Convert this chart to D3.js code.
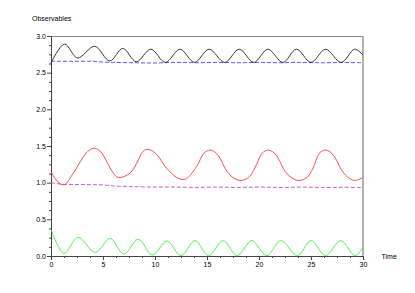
<!DOCTYPE html>
<html>
<head>
<meta charset="utf-8">
<script src="https://cdn.jsdelivr.net/npm/d3@7"></script>
<style>
  body { margin: 0; background: #fff; }
  svg text { font-family: "Liberation Sans", Arial, Helvetica, sans-serif; font-size: 7px; fill: #000; }
</style>
</head>
<body>
<div id="chart"></div>
<script>
// observables, [time, value]
var blackSeries = [[0,2.63],[1.3,2.89],[2.55,2.70],[4.2,2.86],[5.65,2.66],[6.9,2.83],[8.2,2.65],[9.6,2.82],
  [11.0,2.64],[12.4,2.82],[13.8,2.64],[15.2,2.82],[16.7,2.64],[18.1,2.82],[19.5,2.64],[20.85,2.82],
  [22.3,2.64],[23.6,2.82],[25.0,2.64],[26.4,2.82],[27.9,2.64],[29.2,2.82],[30,2.74]];
var blueSeries = [[0,2.655],[2,2.655],[4,2.655],[5,2.645],[6,2.64],[8,2.635],[10,2.632],[12,2.64],[14,2.635],
  [16,2.64],[18,2.635],[20,2.64],[22,2.635],[24,2.64],[26,2.635],[28,2.638],[30,2.636]];
var redSeries = [[0,1.15],[0.6,1.02],[1.25,0.97],[2.15,1.13],[3.1,1.35],[3.65,1.44],[4.2,1.47],[4.8,1.42],
  [5.35,1.29],[6.0,1.13],[6.5,1.07],[7.6,1.13],[8.4,1.31],[8.75,1.41],[9.2,1.455],[9.75,1.43],[10.2,1.38],
  [11.1,1.2],[12.1,1.07],[12.9,1.045],[14.0,1.22],[14.7,1.40],[15.3,1.445],[15.9,1.40],[16.3,1.32],
  [16.8,1.18],[17.4,1.08],[18.2,1.03],[19.0,1.07],[19.6,1.2],[20.3,1.40],[20.9,1.445],[21.5,1.40],
  [21.9,1.32],[22.4,1.18],[23.0,1.08],[23.8,1.03],[24.6,1.07],[25.2,1.2],[25.8,1.40],[26.4,1.445],
  [27.0,1.40],[27.4,1.32],[27.9,1.18],[28.5,1.08],[29.2,1.03],[30,1.07]];
var magentaSeries = [[0,1.0],[1,0.98],[2,0.975],[3,0.975],[4,0.972],[5,0.97],[6,0.955],[7,0.95],[8,0.945],
  [10,0.94],[12,0.94],[14,0.935],[16,0.94],[18,0.935],[20,0.94],[22,0.935],[24,0.94],[26,0.935],[28,0.937],[30,0.935]];
var greenSeries = [[0,0.365],[1.25,0.035],[2.6,0.255],[4.25,0.05],[5.7,0.24],[7.0,0.027],[8.4,0.228],[9.75,0.014],
  [11.15,0.205],[12.5,0.005],[13.85,0.21],[15.15,0.005],[16.55,0.21],[17.9,0.005],[19.3,0.21],[20.75,0.005],
  [22.1,0.21],[23.7,0.005],[25.0,0.21],[26.4,0.005],[27.85,0.21],[29.25,0.005],[30,0.127]];

var xMajor = [0, 5, 10, 15, 20, 25, 30];
var yMajor = [0, 0.5, 1, 1.5, 2, 2.5, 3];
var yLabels = ["0.0", "0.5", "1.0", "1.5", "2.0", "2.5", "3.0"];

var width = 415, height = 293;
var svg = d3.select("#chart").append("svg").attr("width", width).attr("height", height);

var x = d3.scaleLinear().domain([0, 30]).range([51, 363]);
var y = d3.scaleLinear().domain([0, 3]).range([256, 36]);

// minor ticks, 3 between majors
var xMinor = d3.range(0, 30.001, 1.25).filter(function(d){ return d % 5 !== 0; });
var yMinor = d3.range(0, 3.001, 0.125).filter(function(d){ return Math.abs(d*2 - Math.round(d*2)) > 1e-6; });

// box top / right
svg.append("line").attr("x1", x(0)).attr("x2", x(30)).attr("y1", y(3)).attr("y2", y(3))
  .attr("stroke", "#888").attr("shape-rendering", "crispEdges");
svg.append("line").attr("x1", x(30)).attr("x2", x(30)).attr("y1", y(3)).attr("y2", y(0))
  .attr("stroke", "#999").attr("stroke-width", 1.5);

var gx = svg.append("g").attr("transform", "translate(0," + y(0) + ")")
  .call(d3.axisBottom(x).tickValues(xMajor).tickSize(4).tickPadding(2).tickFormat(d3.format("d")));
svg.append("g").attr("transform", "translate(0," + y(0) + ")")
  .call(d3.axisBottom(x).tickValues(xMinor).tickSize(2).tickFormat(""))
  .select(".domain").remove();

var gy = svg.append("g").attr("transform", "translate(" + x(0) + ",0)")
  .call(d3.axisLeft(y).tickValues(yMajor).tickSize(4).tickPadding(1)
    .tickFormat(function(d, i){ return yLabels[i]; }));
svg.append("g").attr("transform", "translate(" + x(0) + ",0)")
  .call(d3.axisLeft(y).tickValues(yMinor).tickSize(2).tickFormat(""))
  .select(".domain").remove();

svg.selectAll(".domain").attr("stroke", "#444");
svg.selectAll(".tick line").attr("stroke", "#444");
svg.selectAll(".tick text").attr("font-size", null).attr("font-family", null);
gx.selectAll(".tick text").attr("dy", "0.71em");

svg.append("text").attr("x", 32).attr("y", 20.5).text("Observables");
svg.append("text").attr("x", 381.5).attr("y", 259).text("Time");

var line = d3.line()
  .x(function(d){ return x(d[0]); })
  .y(function(d){ return y(d[1]); })
  .curve(d3.curveCatmullRom.alpha(0.5));

var series = [
  {data: blueSeries, color: "#4646ff", dash: "4,2"},
  {data: magentaSeries, color: "#c050c0", dash: "4,2"},
  {data: blackSeries, color: "#222", dash: null},
  {data: redSeries, color: "#ff3b3b", dash: null},
  {data: greenSeries, color: "#3cf03c", dash: null}
];

svg.selectAll("path.series")
  .data(series)
  .enter()
  .append("path")
  .attr("class", "series")
  .attr("fill", "none")
  .attr("stroke", function(d){ return d.color; })
  .attr("stroke-width", 0.9)
  .attr("stroke-dasharray", function(d){ return d.dash; })
  .attr("d", function(d){ return line(d.data); });
</script>
</body>
</html>
